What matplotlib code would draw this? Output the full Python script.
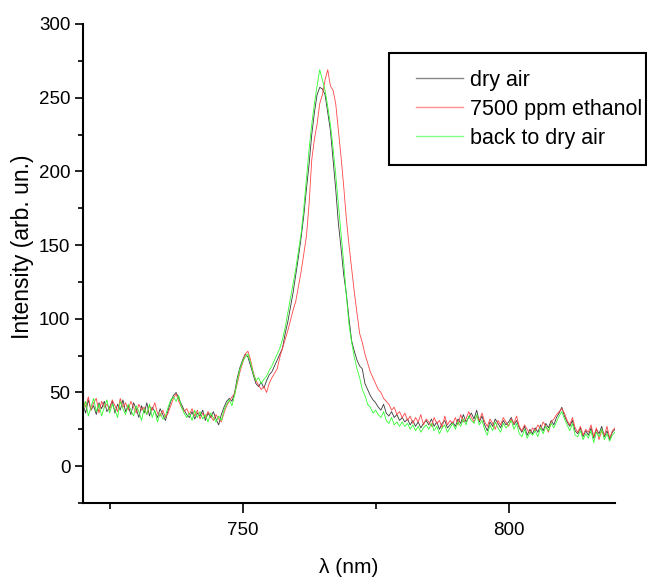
import matplotlib.pyplot as plt
import numpy as np
from matplotlib.patches import Rectangle
from matplotlib.ticker import MultipleLocator

plt.rcParams['font.family'] = ['Liberation Sans', 'DejaVu Sans']

# wavelength grid (nm), 0.5 nm steps
wavelength = np.arange(720, 820.5, 0.5)

dry_air = [
    42, 36, 45, 38, 41, 35, 43, 39, 44, 37,
    40, 44, 36, 42, 38, 45, 37, 41, 35, 43,
    39, 33, 41, 36, 43, 34, 40, 37, 33, 39,
    35, 31, 38, 44, 48, 50, 46, 42, 38, 35,
    33, 37, 32, 36, 34, 38, 31, 36, 33, 37,
    32, 28, 35, 40, 44, 46, 44, 50, 60, 67,
    72, 76, 74, 68, 62, 56, 54, 57, 53, 58,
    62, 64, 68, 72, 76, 80, 90, 98, 108, 118,
    130, 142, 155, 170, 188, 205, 225, 240, 252, 257,
    256, 252, 240, 228, 208, 188, 165, 148, 130, 117,
    100, 85, 78, 72, 68, 66, 56, 52, 48, 45,
    43, 40, 38, 42, 36, 34, 37, 33, 35, 31,
    33, 30, 32, 28, 31, 27, 30, 26, 29, 31,
    28, 32, 27, 30, 25, 29, 31, 26, 28, 30,
    27, 32, 29, 35, 30, 33, 36, 32, 38, 30,
    34, 28, 24, 30, 27, 32, 29, 26, 31, 28,
    30, 33, 28, 31, 26, 23, 27, 21, 25, 22,
    26, 23, 28, 24, 29, 26, 31, 28, 33, 36,
    40, 34, 30, 27, 31, 24, 22, 26, 20, 24,
    21, 26, 19, 25, 22, 27, 20, 24, 18, 23, 25,
]

ethanol = [
    45, 40, 47, 38, 43, 46, 36, 44, 40, 42,
    38, 45, 41, 37, 46, 40, 43, 38, 44, 40,
    36, 42, 38, 40, 35, 41, 38, 43, 36, 34,
    38, 33, 36, 41, 46, 49, 44, 40, 37, 39,
    35, 39, 34, 38, 32, 36, 33, 37, 34, 31,
    35, 32, 30, 36, 41, 44, 47, 49, 56, 64,
    70, 76, 78, 72, 64, 58, 55, 52, 54, 50,
    56, 60, 63, 66, 74, 80, 86, 92, 99, 106,
    112, 122, 132, 144, 156, 178, 208, 222, 232, 246,
    252, 262, 269, 258, 255, 246, 228, 210, 190, 168,
    150, 134, 118, 104, 90, 84, 76, 70, 64, 60,
    56, 52, 50, 46, 44, 42, 38, 40, 35, 37,
    33, 36, 31, 34, 29, 33, 30, 35, 28, 32,
    30, 27, 33, 29, 31, 26, 34, 28, 31, 29,
    33, 28, 35, 30, 32, 37, 33, 30, 34, 31,
    36, 30, 27, 32, 29, 25, 31, 28, 33, 30,
    27, 32, 29, 34, 27, 24, 28, 25, 22, 26,
    24, 28, 25, 30, 27, 23, 30, 32, 35, 37,
    39, 36, 31, 28, 33, 26, 23, 27, 21, 25,
    23, 28, 20, 26, 18, 24, 21, 27, 19, 24, 26,
]

back_dry = [
    38, 44, 34, 40, 46, 37, 42, 34, 40, 45,
    36, 42, 38, 33, 44, 39, 35, 42, 38, 34,
    41, 37, 31, 39, 35, 42, 33, 38, 30, 36,
    32, 34, 40, 45, 47, 44, 48, 40, 36, 33,
    36, 31, 38, 33, 37, 32, 35, 30, 36, 33,
    30, 34, 31, 38, 42, 45, 41, 48, 58, 66,
    71, 74, 76, 70, 63, 58, 60, 56, 59, 61,
    65, 68, 72, 76, 80, 86, 94, 104, 114, 124,
    134, 146, 158, 175, 195, 215, 232, 246, 258, 269,
    262, 255, 244, 232, 216, 198, 178, 158, 138, 116,
    96, 84, 74, 66, 60, 52, 48, 42, 40, 36,
    38, 35, 33, 37, 31, 29, 33, 28, 30, 27,
    30, 27, 29, 25, 28, 24, 27, 23, 26, 28,
    25, 29, 24, 27, 22, 26, 28, 23, 26, 29,
    25, 30, 27, 32, 28, 34, 31, 29, 35, 28,
    31, 25, 21, 28, 24, 30, 26, 23, 29, 26,
    28, 31, 25, 29, 22, 20, 25, 19, 23, 21,
    24, 20, 26, 22, 27, 24, 29, 26, 30, 34,
    37, 32, 28, 24, 29, 21, 20, 24, 18, 22,
    19, 24, 16, 23, 20, 25, 18, 22, 17, 21, 23,
]

labels = ["dry air", "7500 ppm ethanol", "back to dry air"]

fig = plt.figure(figsize=(6.47, 5.79), dpi=100)
ax = fig.add_axes([83/647, 1 - 503/579, 532/647, 479/579])

l1, = ax.plot(wavelength, dry_air, color='#383838', lw=0.6)
l2, = ax.plot(wavelength, ethanol, color='#ff4545', lw=0.6)
l3, = ax.plot(wavelength, back_dry, color='#30ff30', lw=0.6)

ax.set_xlim(720, 820)
ax.set_ylim(-25, 300)
ax.xaxis.set_major_locator(MultipleLocator(50))
ax.xaxis.set_minor_locator(MultipleLocator(25))
ax.yaxis.set_major_locator(MultipleLocator(50))
ax.yaxis.set_minor_locator(MultipleLocator(25))

for s in ['top', 'right']:
    ax.spines[s].set_visible(False)
for s in ['left', 'bottom']:
    ax.spines[s].set_linewidth(1.5)

ax.tick_params(axis='x', which='major', direction='out', length=7, width=1.2, labelsize=13.5, pad=7)
ax.tick_params(axis='x', which='minor', direction='out', length=4, width=1.2)
ax.tick_params(axis='y', which='major', direction='out', length=6, width=1.2, labelsize=13.5, pad=3)
ax.tick_params(axis='y', which='minor', direction='out', length=3.5, width=1.2)

ax.set_xlabel("λ (nm)", fontsize=15)
ax.set_ylabel("Intensity (arb. un.)", fontsize=16.5)
ax.yaxis.set_label_coords(-0.093, 0.534)
ax.xaxis.set_label_coords(0.5, -0.115)

leg = ax.legend([l1, l2, l3], labels, frameon=False, loc='upper left',
                bbox_to_anchor=(416/647, 1 - 70/579), bbox_transform=fig.transFigure,
                borderpad=0, borderaxespad=0, handlelength=2.2, handletextpad=0.3,
                labelspacing=0.37, fontsize=15.5)
for h in leg.legend_handles:
    h.set_linewidth(1.0)
    h.set_alpha(0.6)

fig.patches.append(Rectangle((389/647, 1 - 165/579), 257/647, 112/579,
                             transform=fig.transFigure, fill=False,
                             edgecolor='black', lw=1.5))

plt.savefig("out.png", dpi=100)
